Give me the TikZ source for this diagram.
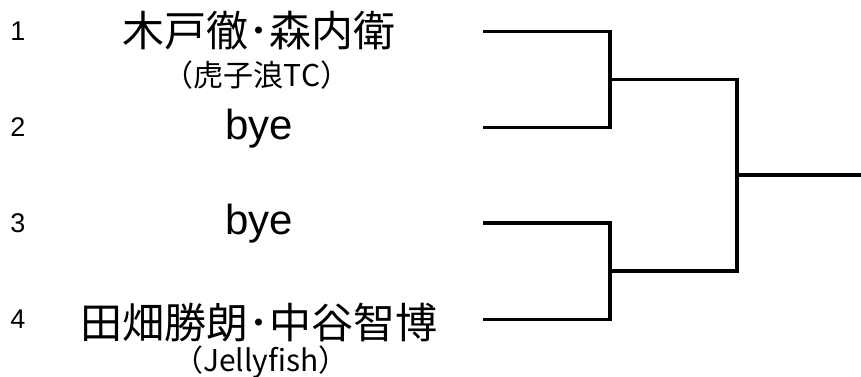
\documentclass[tikz,border=0pt]{standalone}
\usepackage{fontspec}
\setmainfont{Liberation Sans}
\newfontfamily\jfont{Noto Sans CJK JP}

\begin{document}
\begin{tikzpicture}[x=1pt, y=-1pt, line join=miter,
                    bracket/.style={line width=3.2pt},
                    seed/.style={font=\fontsize{27}{30}\selectfont},
                    player/.style={font=\jfont\fontsize{42}{46}\selectfont},
                    byeline/.style={font=\fontsize{42}{46}\selectfont},
                    club/.style={font=\jfont\fontsize{30}{33}\selectfont}
                   ]
\useasboundingbox (0,0) rectangle (861,376);
\pgfmathsetmacro{\xn}{259}

%seeds and line ends
\foreach \k/\y in {1/31.5,2/127.5,3/223,4/319.5}{
    \node [seed] (n\k) at (18,\y) {\k};
    \coordinate (l\k) at (483,\y);
}
%players
\node [player] (p1) at (\xn,31) {木戸徹･森内衛};
\node [club] (c1) at (257,75) {（虎子浪TC）};
\node [byeline] (p2) at (\xn,129) {bye};
\node [byeline] (p3) at (\xn,224) {bye};
\node [player] (p4) at (\xn,323) {田畑勝朗･中谷智博};
\node [club] (c4) at (261,362) {（Jellyfish）};

%bracket
\coordinate (s1) at (610,79.5);
\coordinate (s2) at (610,271);
\coordinate (f) at (737,175);
\coordinate (w) at (861,175);
\draw [bracket] (l1) -| (s1) |- (l2);
\draw [bracket] (l3) -| (s2) |- (l4);
\draw [bracket] (s1) -| (f) |- (s2);
\draw [bracket] (f) -- (w);
\end{tikzpicture}
\end{document}
